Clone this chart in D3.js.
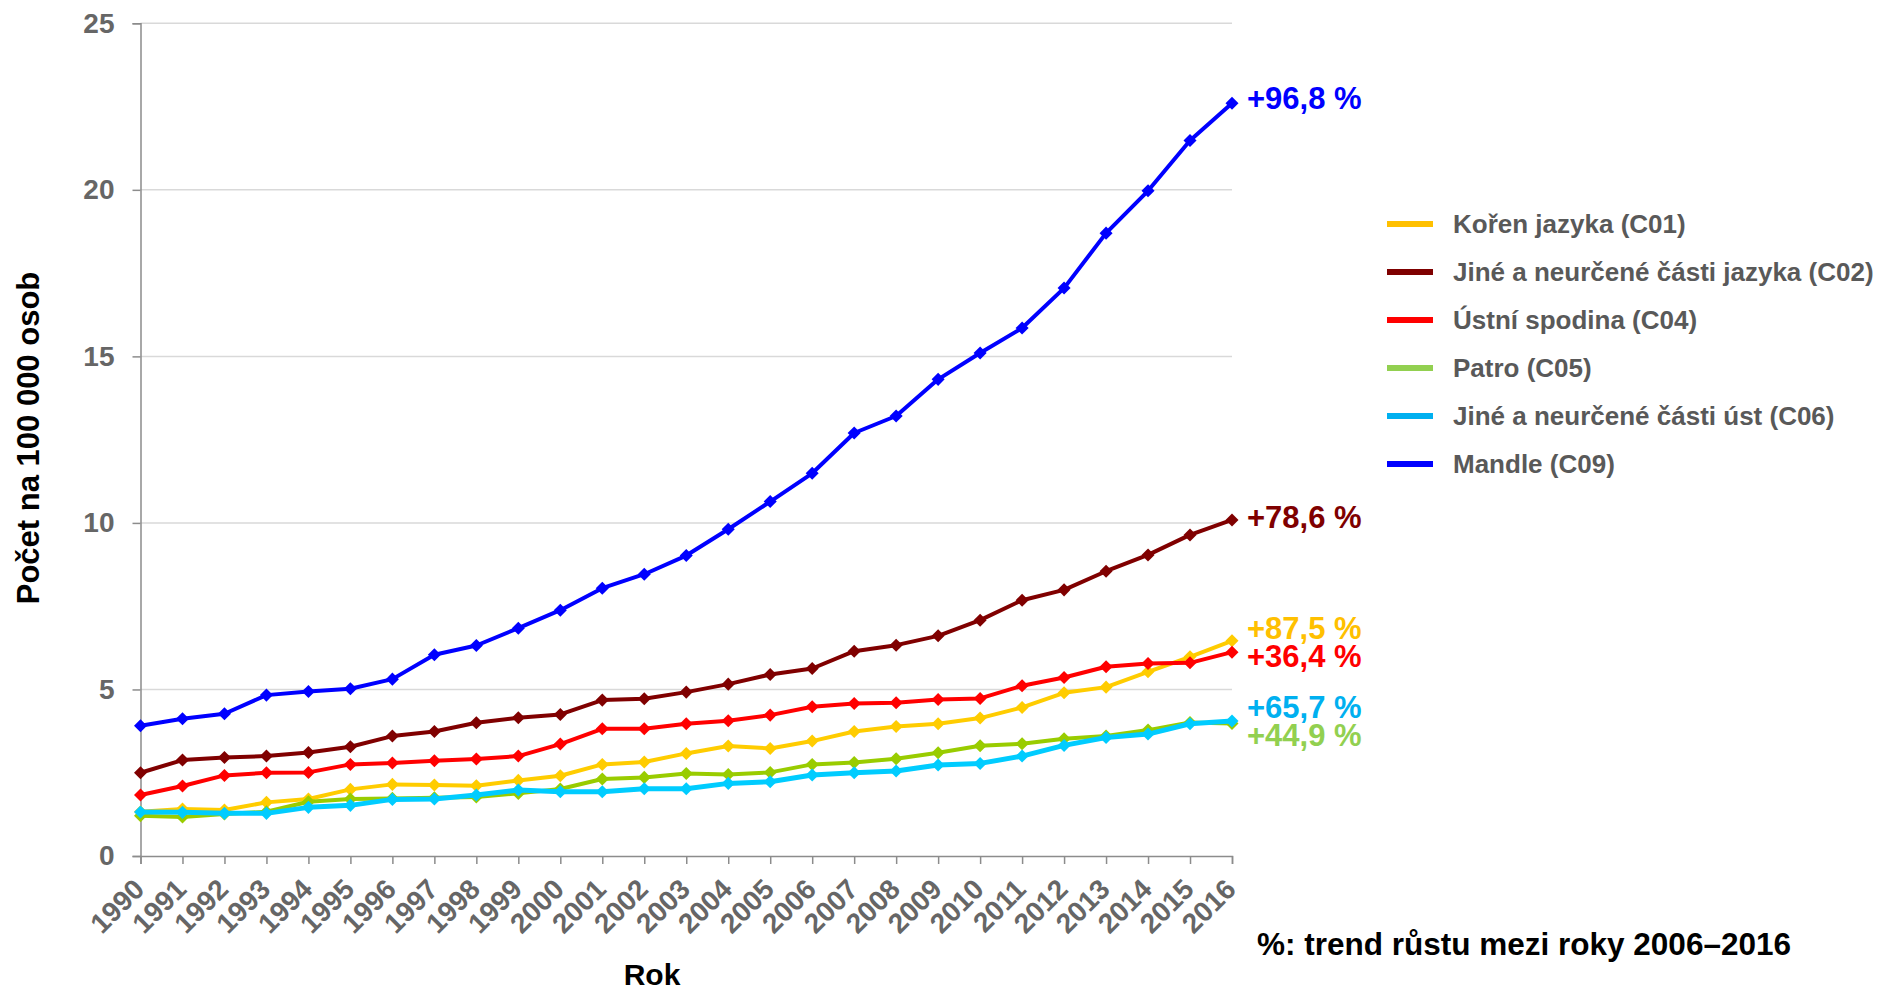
<!DOCTYPE html>
<html>
<head>
<meta charset="utf-8">
<script src="https://cdn.jsdelivr.net/npm/d3@7"></script>
<style>
  body { margin: 0; background: #fff; }
  svg { display: block; font-family: "Liberation Sans", Arial, sans-serif; font-weight: bold; }
</style>
</head>
<body>
<svg id="chart" width="1883" height="991"></svg>
<script>
const years = [1990, 1991, 1992, 1993, 1994, 1995, 1996, 1997, 1998, 1999, 2000, 2001, 2002,
  2003, 2004, 2005, 2006, 2007, 2008, 2009, 2010, 2011, 2012, 2013, 2014, 2015, 2016];

const seriesNames = ["Kořen jazyka (C01)", "Jiné a neurčené části jazyka (C02)", "Ústní spodina (C04)",
  "Patro (C05)", "Jiné a neurčené části úst (C06)", "Mandle (C09)"];

const c01 = [1.33, 1.41, 1.38, 1.61, 1.71, 2.00, 2.15, 2.13, 2.11, 2.27, 2.41, 2.75, 2.82, 3.08,
  3.30, 3.23, 3.45, 3.74, 3.89, 3.97, 4.14, 4.46, 4.90, 5.07, 5.53, 5.98, 6.46];
const c02 = [2.50, 2.88, 2.96, 3.00, 3.11, 3.28, 3.60, 3.74, 4.00, 4.15, 4.25, 4.68, 4.72, 4.92,
  5.16, 5.45, 5.63, 6.15, 6.33, 6.61, 7.08, 7.68, 7.99, 8.55, 9.04, 9.64, 10.09];
const c04 = [1.83, 2.10, 2.42, 2.50, 2.51, 2.75, 2.79, 2.86, 2.91, 3.00, 3.36, 3.82, 3.82, 3.97,
  4.06, 4.23, 4.48, 4.58, 4.60, 4.70, 4.73, 5.11, 5.36, 5.68, 5.78, 5.80, 6.12];
const c05 = [1.21, 1.17, 1.26, 1.33, 1.63, 1.71, 1.73, 1.75, 1.77, 1.88, 2.01, 2.31, 2.36, 2.48,
  2.45, 2.51, 2.75, 2.81, 2.92, 3.10, 3.31, 3.37, 3.52, 3.60, 3.78, 4.01, 3.98];
const c06 = [1.32, 1.31, 1.28, 1.28, 1.46, 1.52, 1.70, 1.71, 1.83, 1.98, 1.93, 1.93, 2.02, 2.02,
  2.18, 2.23, 2.43, 2.50, 2.55, 2.73, 2.78, 3.00, 3.32, 3.56, 3.66, 3.97, 4.05];
const c09 = [3.91, 4.12, 4.27, 4.83, 4.94, 5.02, 5.31, 6.04, 6.32, 6.84, 7.38, 8.04, 8.46, 9.02,
  9.81, 10.64, 11.49, 12.70, 13.21, 14.31, 15.10, 15.85, 17.05, 18.70, 19.97, 21.48, 22.60];

const trendLabels = ["+87,5 %", "+78,6 %", "+36,4 %", "+44,9 %", "+65,7 %", "+96,8 %"];
const yTicks = [0, 5, 10, 15, 20, 25];

// styling
const lineColors = ["#FFCC00", "#800000", "#FF0000", "#99CC00", "#00CCFF", "#0000FF"];
const keyColors = ["#FFC000", "#7F0000", "#FF0000", "#92D050", "#00B0F0", "#0000FF"];
const lineWidths = [4, 4, 4, 4, 5, 4];
const labelShift = [-2, 8, 15, 23, -3, 6]; // px, baseline offset from last point

const allSeries = [c01, c02, c04, c05, c06, c09];

const svg = d3.select("#chart");
const m = { left: 140.5, right: 1232, top: 23.3, bottom: 856 };

const x = d3.scaleLinear().domain([years[0], years[years.length - 1]]).range([m.left, m.right]);
const y = d3.scaleLinear().domain([0, 25]).range([m.bottom, m.top]);

// grid
svg.append("g")
  .selectAll("line")
  .data(yTicks.slice(1))
  .enter()
  .append("line")
  .attr("x1", m.left)
  .attr("x2", m.right)
  .attr("y1", d => y(d))
  .attr("y2", d => y(d))
  .attr("stroke", "#D9D9D9")
  .attr("stroke-width", 1.5);

// y axis
const yAxis = svg.append("g")
  .attr("transform", `translate(${m.left},0)`)
  .call(d3.axisLeft(y).tickValues(yTicks).tickSize(8).tickPadding(18).tickFormat(d3.format("d")));
yAxis.select(".domain").attr("stroke", "#8C8C8C").attr("stroke-width", 1.5);
yAxis.selectAll(".tick line").attr("stroke", "#8C8C8C").attr("stroke-width", 1.5);
yAxis.selectAll("text")
  .attr("fill", "#666666")
  .style("font-size", "28px")
  .style("font-family", "Liberation Sans, Arial, sans-serif")
  .style("font-weight", "bold");

// x axis
const xAxis = svg.append("g")
  .attr("transform", `translate(0,${m.bottom})`)
  .call(d3.axisBottom(x).tickValues(years).tickSize(8).tickFormat(d3.format("d")));
xAxis.select(".domain").attr("stroke", "#8C8C8C").attr("stroke-width", 1.5);
xAxis.selectAll(".tick line").attr("stroke", "#8C8C8C").attr("stroke-width", 1.5);
xAxis.selectAll("text")
  .attr("y", 0)
  .attr("dy", 0)
  .attr("transform", "translate(5,35) rotate(-45)")
  .attr("text-anchor", "end")
  .attr("fill", "#666666")
  .style("font-size", "28px")
  .style("font-family", "Liberation Sans, Arial, sans-serif")
  .style("font-weight", "bold");

// lines
const line = d3.line()
  .x((d, i) => x(years[i]))
  .y(d => y(d));

const diamond = d3.symbol().type(d3.symbolSquare).size(85);

allSeries.forEach((vals, k) => {
  const g = svg.append("g");
  g.append("path")
    .datum(vals)
    .attr("d", line)
    .attr("fill", "none")
    .attr("stroke", lineColors[k])
    .attr("stroke-width", lineWidths[k])
    .attr("stroke-linejoin", "round");

  g.selectAll("path.pt")
    .data(vals)
    .enter()
    .append("path")
    .attr("class", "pt")
    .attr("d", diamond)
    .attr("transform", (d, i) => `translate(${x(years[i])},${y(d)}) rotate(45)`)
    .attr("fill", lineColors[k]);

  const last = vals[vals.length - 1];
  svg.append("text")
    .attr("x", x(years[years.length - 1]) + 15)
    .attr("y", y(last) + labelShift[k])
    .attr("fill", keyColors[k])
    .style("font-size", "31px")
    .text(trendLabels[k]);
});

// legend
const legend = svg.append("g").attr("transform", "translate(1387,224)");
seriesNames.forEach((name, k) => {
  const row = legend.append("g").attr("transform", `translate(0,${k * 48})`);
  row.append("line")
    .attr("x1", 0).attr("x2", 46)
    .attr("stroke", keyColors[k])
    .attr("stroke-width", 6);
  row.append("text")
    .attr("x", 66)
    .attr("dy", "0.36em")
    .attr("fill", "#595959")
    .style("font-size", "26px")
    .text(name);
});

// titles
svg.append("text")
  .attr("transform", "translate(39,438) rotate(-90)")
  .attr("text-anchor", "middle")
  .attr("fill", "#000")
  .style("font-size", "31px")
  .text("Počet na 100 000 osob");

svg.append("text")
  .attr("x", 652)
  .attr("y", 985)
  .attr("text-anchor", "middle")
  .attr("fill", "#000")
  .style("font-size", "30px")
  .text("Rok");

svg.append("text")
  .attr("x", 1257)
  .attr("y", 955)
  .attr("fill", "#000")
  .style("font-size", "31.5px")
  .text("%: trend růstu mezi roky 2006–2016");
</script>
</body>
</html>
